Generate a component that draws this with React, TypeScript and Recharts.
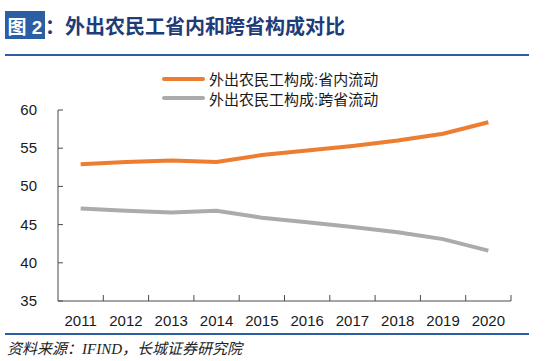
import { LineChart, Line, XAxis, YAxis, Legend } from "recharts";

const years = ["2011", "2012", "2013", "2014", "2015", "2016", "2017", "2018", "2019", "2020"];
const inProvince = [52.9, 53.2, 53.4, 53.2, 54.1, 54.7, 55.3, 56.0, 56.9, 58.4];
const crossProvince = [47.1, 46.8, 46.6, 46.8, 45.9, 45.3, 44.7, 44.0, 43.1, 41.6];
const yTicks = [35, 40, 45, 50, 55, 60];

const data = years.map((year, i) => ({
    year,
    inProvince: inProvince[i],
    crossProvince: crossProvince[i],
}));

const CHART_W = 550;
const CHART_H = 361;
const Y_AXIS_W = 58;
const MARGIN = { top: 110, right: 39, left: 0, bottom: 30 };
const BAND = (CHART_W - Y_AXIS_W - MARGIN.right - MARGIN.left) / years.length;

const FONT = '"Liberation Sans", Arial, "Noto Sans CJK SC", sans-serif';
const AXIS = "#4a4a4a";
const BLUE = "#2c5ea4";

// ticks point inward, so they are drawn together with the label
function YTick({ x, y, payload }: any) {
    return (
        <g>
            <line x1={x + 21} x2={x + 26} y1={y} y2={y} stroke={AXIS} strokeWidth={1} />
            <text x={x} y={y} dy={5} textAnchor="end" fontSize={15} fill="#1a1a1a" fontFamily={FONT}>
                {payload.value}
            </text>
        </g>
    );
}

function XTick({ x, y, payload }: any) {
    const bx = x + BAND / 2;
    return (
        <g>
            <line x1={bx} x2={bx} y1={y - 14} y2={y - 20} stroke={AXIS} strokeWidth={1} />
            <text x={x} y={y} dy={11} textAnchor="middle" fontSize={15} fill="#1a1a1a" fontFamily={FONT}>
                {payload.value}
            </text>
        </g>
    );
}

function LegendContent({ payload }: any) {
    return (
        <div style={{ fontFamily: FONT }}>
            {(payload || []).map((item: any) => (
                <div key={item.value} style={{ display: "flex", alignItems: "center", height: 19.5 }}>
                    <div style={{ width: 43, height: 4, borderRadius: 2, background: item.color }} />
                    <span style={{ marginLeft: 4, fontSize: 15, color: "#1a1a1a", whiteSpace: "nowrap" }}>
                        {item.value}
                    </span>
                </div>
            ))}
        </div>
    );
}

export default function App() {
    return (
        <div style={{ position: "absolute", left: 0, top: 0, width: CHART_W, height: CHART_H, background: "#fff", fontFamily: FONT }}>
            <div style={{ position: "absolute", left: 5, top: 11, height: 28, display: "flex", alignItems: "center" }}>
                <div style={{ background: BLUE, color: "#fff", height: 28, width: 40, display: "flex", alignItems: "center", justifyContent: "center", fontSize: 19, fontWeight: 700 }}>
                    图 2
                </div>
                <div style={{ color: "#1f3b78", fontSize: 20, fontWeight: 700, whiteSpace: "nowrap" }}>
                    ：外出农民工省内和跨省构成对比
                </div>
            </div>
            <div style={{ position: "absolute", left: 5, top: 54, width: 524, height: 2, background: BLUE }} />

            <div style={{ position: "absolute", left: 0, top: 0 }}>
                <LineChart width={CHART_W} height={CHART_H} data={data} margin={MARGIN}>
                    <XAxis
                        dataKey="year"
                        scale="band"
                        height={30}
                        axisLine={{ stroke: AXIS, strokeWidth: 1 }}
                        tickLine={false}
                        tickSize={0}
                        tickMargin={14}
                        interval={0}
                        tick={<XTick />}
                    />
                    <YAxis
                        width={Y_AXIS_W}
                        domain={[35, 60]}
                        ticks={yTicks}
                        axisLine={{ stroke: AXIS, strokeWidth: 1 }}
                        tickLine={false}
                        tickSize={0}
                        tickMargin={21}
                        tick={<YTick />}
                    />
                    <Legend
                        layout="vertical"
                        align="center"
                        verticalAlign="middle"
                        content={<LegendContent />}
                        wrapperStyle={{ left: 162, top: 69, width: "auto", height: "auto" }}
                    />
                    <Line
                        type="linear"
                        dataKey="inProvince"
                        name="外出农民工构成:省内流动"
                        stroke="#ed7d31"
                        strokeWidth={4}
                        dot={false}
                        isAnimationActive={false}
                    />
                    <Line
                        type="linear"
                        dataKey="crossProvince"
                        name="外出农民工构成:跨省流动"
                        stroke="#ababab"
                        strokeWidth={4}
                        dot={false}
                        isAnimationActive={false}
                    />
                </LineChart>
            </div>

            <div style={{ position: "absolute", left: 5, top: 333, width: 524, height: 2, background: BLUE }} />
            <div style={{ position: "absolute", left: 7, top: 337, fontSize: 15, fontStyle: "italic", color: "#222", whiteSpace: "nowrap", fontFamily: '"Liberation Serif", "Noto Sans CJK SC", serif' }}>
                资料来源：IFIND，长城证券研究院
            </div>
        </div>
    );
}
